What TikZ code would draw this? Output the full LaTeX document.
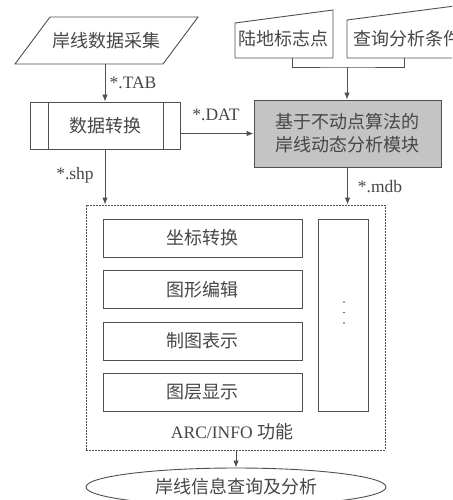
\documentclass[tikz,border=0pt]{standalone}
\usepackage{fontspec}
\setmainfont{Liberation Serif}
\newfontfamily\cjk{Noto Sans CJK SC}
\usetikzlibrary{arrows.meta,shapes.geometric,calc}
\definecolor{ln}{HTML}{505050}
\definecolor{tx}{HTML}{474747}
\definecolor{gfill}{HTML}{C4C4C4}
\begin{document}
\begin{tikzpicture}[x=1pt,y=-1pt,line width=0.9pt,
  lnst/.style={draw=ln},
  arr/.style={draw=ln,-{Latex[length=7pt,width=5.5pt]}},
  txt/.style={inner sep=0pt,text=tx,font=\cjk\fontsize{18}{23}\selectfont},
  lbl/.style={inner sep=0pt,text=tx,font=\fontsize{17.5}{20}\selectfont},
  box/.style={draw=ln,rectangle,inner sep=0pt,text=tx,font=\cjk\fontsize{18}{23}\selectfont},
  fbox/.style={box,minimum width=199pt,minimum height=38pt}]
\useasboundingbox (0,0) rectangle (452,500);
\clip (0,0) rectangle (452,500);
\fill[white] (0,0) rectangle (452,500);

% input parallelogram
\draw[lnst] (50,17) -- (198,17) -- (163,64) -- (15,64) -- cycle;
\node[txt] (collect) at (106,41) {岸线数据采集};
\coordinate (collectS) at (105,64);

% conversion box
\node[box,minimum width=150pt,minimum height=47pt] (conv) at (105,125.5) {数据转换};
\draw[lnst] ($(conv.north west)+(19,0)$) -- ($(conv.south west)+(19,0)$);
\draw[lnst] ($(conv.north east)+(-17,0)$) -- ($(conv.south east)+(-17,0)$);

% module box
\node[box,fill=gfill,minimum width=187pt,minimum height=67pt,align=center] (mod) at (347.5,133.5) {基于不动点算法的\\岸线动态分析模块};

% manual input shapes
\draw[lnst] (235,23) -- (333,10) -- (333,58) -- (235,58) -- cycle;
\node[txt,anchor=west] (land) at (238,39) {陆地标志点};
\draw[lnst] (347,20) -- (470,4) -- (470,58) -- (347,58) -- cycle;
\node[txt,anchor=west] (cond) at (353,39) {查询分析条件};
\coordinate (landS) at (292,58);
\coordinate (condS) at (404,58);
\coordinate (jn) at (347,67);
\draw[lnst] (landS) |- (jn) -| (condS);
\draw[arr] (jn) -- (jn |- mod.north);

% ARC/INFO dashed box
\node[draw=ln,dash pattern=on 1.6pt off 1.4pt,rectangle,inner sep=0pt,minimum width=299pt,minimum height=245pt] (arc) at (235.5,327.5) {};
\node[fbox] (f1) at (202.5,238) {坐标转换};
\node[fbox] (f2) at (202.5,289.5) {图形编辑};
\node[fbox] (f3) at (202.5,341) {制图表示};
\node[fbox] (f4) at (202.5,392) {图层显示};
\node[box,minimum width=50pt,minimum height=192pt] (more) at (343,315) {};
\fill[ln] (344,302) circle (0.9) (344,312.5) circle (0.9) (344,323) circle (0.9);
\node[lbl] (arclbl) at (232,432) {ARC/INFO {\cjk\fontsize{18}{20}\selectfont 功能}};

% query ellipse
\node[draw=ln,ellipse,inner sep=0pt,minimum width=300pt,minimum height=38pt,text=tx,font=\cjk\fontsize{18}{23}\selectfont] (query) at (236,487) {岸线信息查询及分析};

% connectors
\draw[arr] (collectS) -- (conv.north);
\node[lbl] (tab) at (133,83) {*.TAB};
\draw[arr] (conv.east |- mod.west) -- (mod.west);
\node[lbl] (dat) at (216,115) {*.DAT};
\draw[arr] (conv.south) -- (conv.south |- arc.north);
\node[lbl] (shp) at (75,175) {*.shp};
\draw[arr] (mod.south) -- (mod.south |- arc.north);
\node[lbl] (mdb) at (380,187) {*.mdb};
\draw[arr] (query.north |- arc.south) -- (query.north);
\end{tikzpicture}
\end{document}
